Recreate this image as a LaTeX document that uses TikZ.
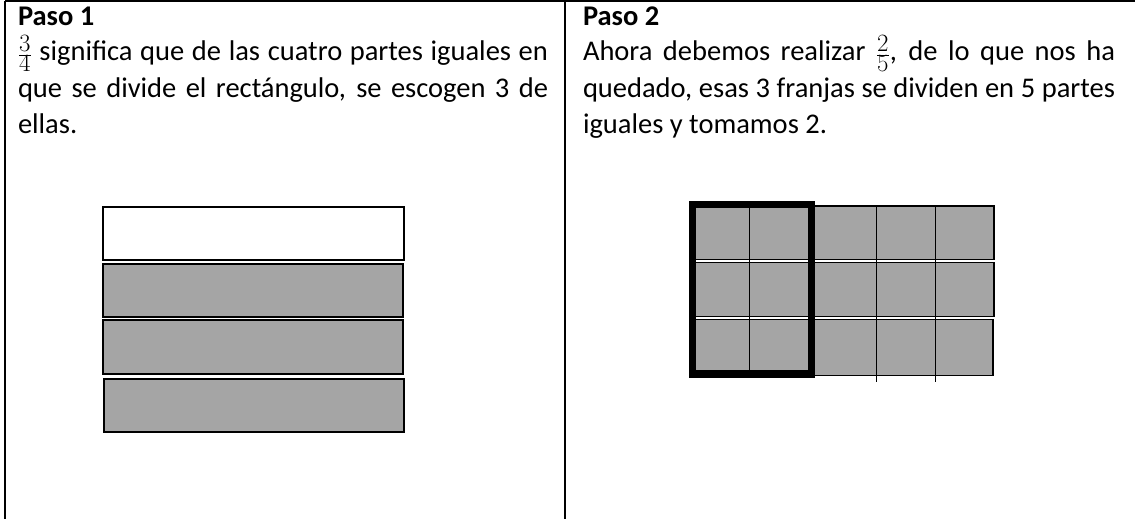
\documentclass[tikz,border=0pt]{standalone}
\usepackage{fontspec}
\setmainfont{Carlito}
\definecolor{barfill}{RGB}{165,165,165}
\newcommand{\bigfrac}[2]{{\fontsize{36}{36}\selectfont$\frac{#1}{#2}$}}
\begin{document}
\begin{tikzpicture}[x=1pt,y=-1pt,
  txt/.style={inner sep=0pt, outer sep=0pt, anchor=base west, font=\fontsize{28.5}{34}\selectfont},
  rule/.style={line width=2pt, black},
  strip/.style={draw=black, line width=2.2pt, fill=barfill},
  cell/.style={draw=black, line width=1.6pt, fill=barfill},
  thin/.style={black, line width=1pt},
  frame/.style={draw=black, line width=7.3pt}]
\useasboundingbox (0,0) rectangle (1135,519);
% table rules
\coordinate (tl) at (5,1.5);
\coordinate (tm) at (565,1.5);
\coordinate (tr) at (1135,1.5);
\coordinate (bl) at (5,519);
\coordinate (bm) at (565,519);
\draw[rule] (tl) -- (tr);
\draw[rule] (tl) -- (bl);
\draw[rule] (tm) -- (bm);
% left text
\node[txt] (p1) at (18,26) {\bfseries Paso 1};
\node[txt] (l1a) at (18,61) {\makebox[530pt][s]{\bigfrac{3}{4} significa que de las cuatro partes iguales en}};
\node[txt] (l1b) at (18,97) {\makebox[530pt][s]{que se divide el rectángulo, se escogen 3 de}};
\node[txt] (l1c) at (18,133) {ellas.};
% right text
\node[txt] (p2) at (583,26) {\bfseries Paso 2};
\node[txt] (l2a) at (583,61) {\makebox[532pt][s]{Ahora debemos realizar \bigfrac{2}{5}, de lo que nos ha}};
\node[txt] (l2b) at (583,97) {\makebox[532pt][s]{quedado, esas 3 franjas se dividen en 5 partes}};
\node[txt] (l2c) at (583,133) {iguales y tomamos 2.};
% left bars
\draw[strip, fill=white] (103,207) rectangle (404,260);
\draw[strip] (103,264) rectangle (403,317);
\draw[strip] (103,320) rectangle (403,374);
\draw[strip] (104,379) rectangle (404,432);
% right grid
\draw[cell] (690,206) rectangle (994,259.5);
\draw[cell] (690,262.5) rectangle (994,316.5);
\draw[cell] (690,319.5) rectangle (993,375.5);
\coordinate (c1t) at (749,206); \coordinate (c1b) at (749,375.5);
\coordinate (c3t) at (876,206); \coordinate (c3b) at (876,382);
\coordinate (c4t) at (935,206); \coordinate (c4b) at (935,382);
\draw[thin] (c1t) -- (c1b);
\draw[thin] (c3t) -- (c3b);
\draw[thin] (c4t) -- (c4b);
\draw[frame] (692.6,204.6) rectangle (811.4,374.1);
\end{tikzpicture}
\end{document}
